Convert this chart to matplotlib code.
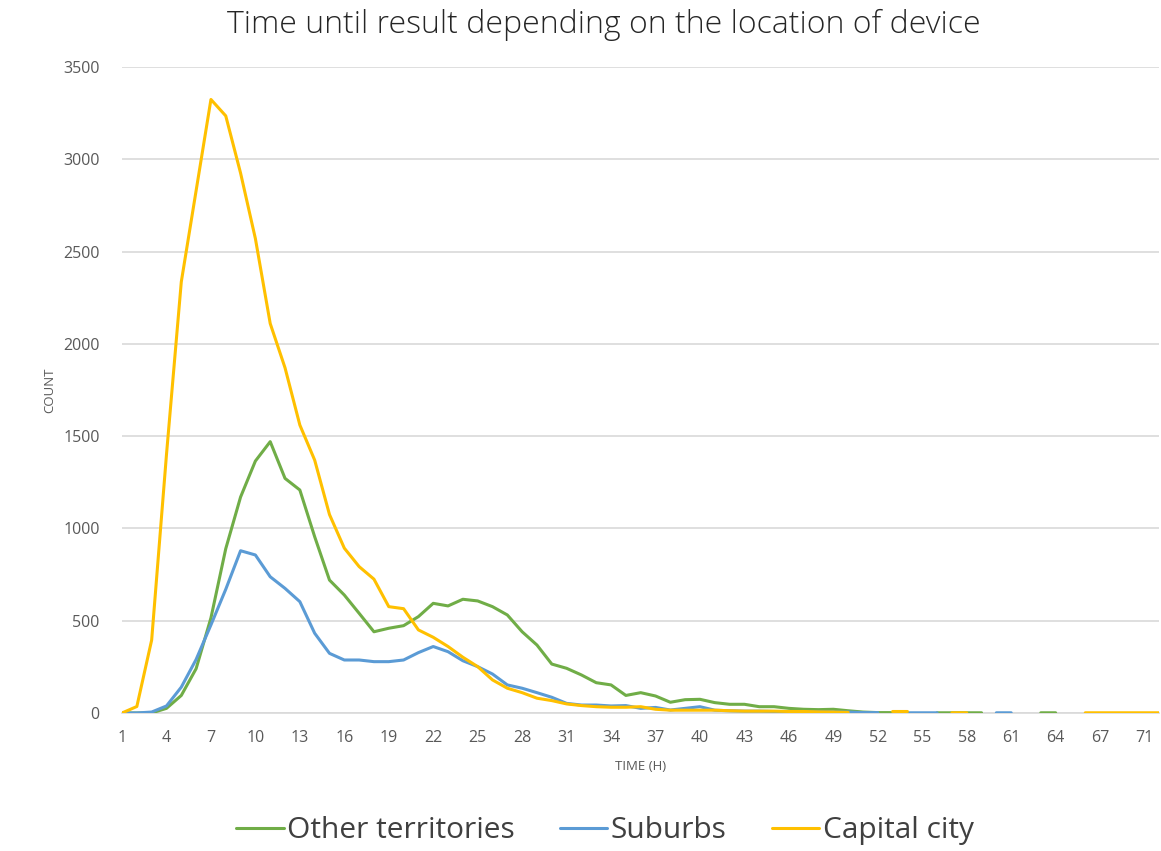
import numpy as np
import matplotlib
matplotlib.use("Agg")
import matplotlib.pyplot as plt

nan = np.nan

# Category labels (hours) – one hour value absent in the source data
hours = list(range(1, 69)) + [70, 71, 72]

other_territories = [
    0, 0, 0, 25, 95, 240, 515, 890, 1170, 1365, 1470, 1271, 1208, 955, 720,
    639, 540, 440, 459, 473, 522, 594, 580, 616, 607, 576, 531, 440, 368, 265,
    242, 206, 164, 152, 95, 110, 92, 58, 72, 74, 56, 47, 47, 34, 34,
    25, 20, 18, 20, 12, 5, 2, 2, nan, nan, 1, 1, 1, 1, nan,
    nan, nan, 1, 1, nan, nan, nan, nan, nan, nan, nan,
]

suburbs = [
    0, 0, 5, 38, 140, 290, 477, 670, 879, 856, 738, 675, 603, 432, 323,
    287, 287, 278, 278, 287, 327, 360, 332, 283, 251, 211, 152, 134, 110, 85,
    52, 43, 43, 38, 40, 25, 30, 16, 25, 34, 15, 12, 10, 10, 8,
    8, 6, 6, 5, 5, 2, 2, nan, 1, 1, 1, nan, nan, nan, 1,
    1, nan, nan, nan, nan, nan, nan, nan, nan, nan, nan,
]

capital_city = [
    0, 35, 395, 1400, 2336, 2830, 3324, 3235, 2925, 2570, 2110, 1870, 1560, 1370, 1075,
    893, 793, 725, 576, 565, 450, 410, 360, 302, 251, 179, 134, 110, 80, 67,
    49, 40, 34, 31, 31, 34, 20, 15, 15, 15, 15, 12, 10, 10, 10,
    8, 8, 6, 5, 3, nan, nan, 8, 8, nan, nan, 1, 1, nan, nan,
    nan, nan, nan, nan, nan, 1, 1, 1, 1, 1, 1,
]

series_names = ["Other territories", "Suburbs", "Capital city"]
series_values = [other_territories, suburbs, capital_city]
series_colors = ["#70AD47", "#5B9BD5", "#FFC000"]

plt.rcParams["font.family"] = ["Open Sans", "DejaVu Sans"]

fig = plt.figure(figsize=(11.61, 8.51), dpi=100)
ax = fig.add_axes([0.1051, 0.1622, 0.8935, 0.7591])

idx = np.arange(len(hours))
for name, vals, col in zip(series_names, series_values, series_colors):
    ax.plot(idx, np.array(vals, dtype=float), color=col, lw=2.2, label=name,
            solid_joinstyle="round", solid_capstyle="round", zorder=3)

ax.set_xlim(0, len(hours) - 1)
ax.set_ylim(0, 3500)
ax.set_yticks(np.arange(0, 3501, 500))
ax.yaxis.grid(True, color="#D9D9D9", lw=1.2, zorder=0)
ax.set_xticks(idx[::3])
ax.set_xticklabels([str(hours[i]) for i in idx[::3]])
for s in ["top", "right", "left"]:
    ax.spines[s].set_visible(False)
ax.spines["bottom"].set_color("#D9D9D9")
ax.spines["bottom"].set_linewidth(1.2)
ax.tick_params(axis="both", length=0, colors="#595959", labelsize=11.5)
ax.tick_params(axis="x", pad=12)
ax.tick_params(axis="y", pad=16)

ax.set_xlabel("TIME (H)", color="#595959", fontsize=9.5, labelpad=10)
ax.set_ylabel("COUNT", color="#595959", fontsize=9.5, labelpad=5)

fig.suptitle("Time until result depending on the location of device",
             x=0.52, y=0.99, fontsize=23, color="#262626", fontweight="light")

fig.legend(loc="center", bbox_to_anchor=(0.521, 0.024), ncol=3, frameon=False,
           fontsize=21.5, handlelength=1.6, handletextpad=0.12, columnspacing=1.5,
           labelcolor="#404040")

fig.savefig("out.png", dpi=100)
